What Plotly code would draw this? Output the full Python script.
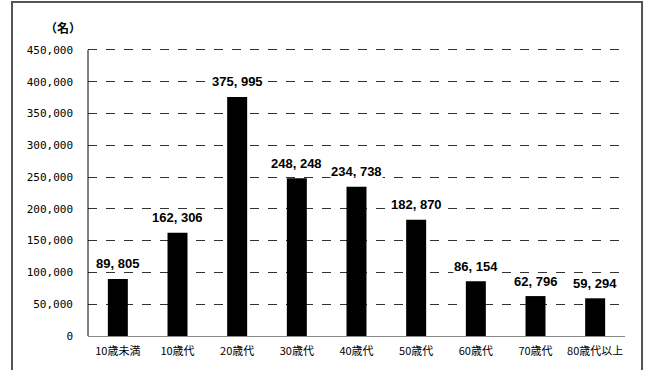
import plotly.graph_objects as go

categories = ["10歳未満", "10歳代", "20歳代", "30歳代", "40歳代", "50歳代", "60歳代", "70歳代", "80歳代以上"]
values = [89805, 162306, 375995, 248248, 234738, 182870, 86154, 62796, 59294]
y_ticks = [0, 50000, 100000, 150000, 200000, 250000, 300000, 350000, 400000, 450000]
y_unit = "（名）"

fig = go.Figure()
fig.add_trace(go.Bar(x=categories, y=values, marker=dict(color="black", line=dict(width=0)),
                     hoverinfo="skip"))

for c, v in zip(categories, values):
    fig.add_annotation(x=c, y=v, text="<b>" + f"{v:,}".replace(",", ", ") + "</b>",
                       showarrow=False, yshift=15, bgcolor="white",
                       font=dict(family="Liberation Sans Narrow, Arial Narrow, Liberation Sans, sans-serif",
                                 size=13, color="black"), borderpad=0)

fig.add_annotation(xref="paper", yref="paper", x=-0.046, y=1.07, xanchor="center", yanchor="middle",
                   text="<b>" + y_unit + "</b>",
                   showarrow=False, font=dict(family="Noto Sans CJK JP", size=12, color="black"))

fig.add_shape(type="rect", xref="paper", yref="paper", x0=-0.1415, x1=1.0317, y0=-0.3, y1=1.16,
              line=dict(color="#555555", width=2), fillcolor="rgba(0,0,0,0)", layer="below")

fig.update_layout(
    width=649, height=370,
    margin=dict(l=88, r=24, t=48, b=32),
    paper_bgcolor="white", plot_bgcolor="white",
    showlegend=False, bargap=0.665,
    font=dict(family="Noto Sans CJK JP, DejaVu Sans, sans-serif", size=11, color="black"),
)
fig.update_yaxes(range=[0, 453000], tickvals=y_ticks, tickformat=",", showgrid=True,
                 gridcolor="#333333", griddash="dash", gridwidth=1,
                 showline=False, ticks="",
                 ticklabelstandoff=14, zeroline=False,
                 tickfont=dict(family="DejaVu Sans Mono, Noto Sans CJK JP", size=11))
fig.add_shape(type="line", xref="paper", yref="y", x0=0, x1=0, y0=0, y1=y_ticks[-1],
              line=dict(color="black", width=1))
fig.update_xaxes(showline=True, linecolor="#888888", linewidth=1, ticks="",
                 ticklabelstandoff=5,
                 tickfont=dict(family="Noto Sans CJK JP", size=11))

fig.write_html("out.html")
